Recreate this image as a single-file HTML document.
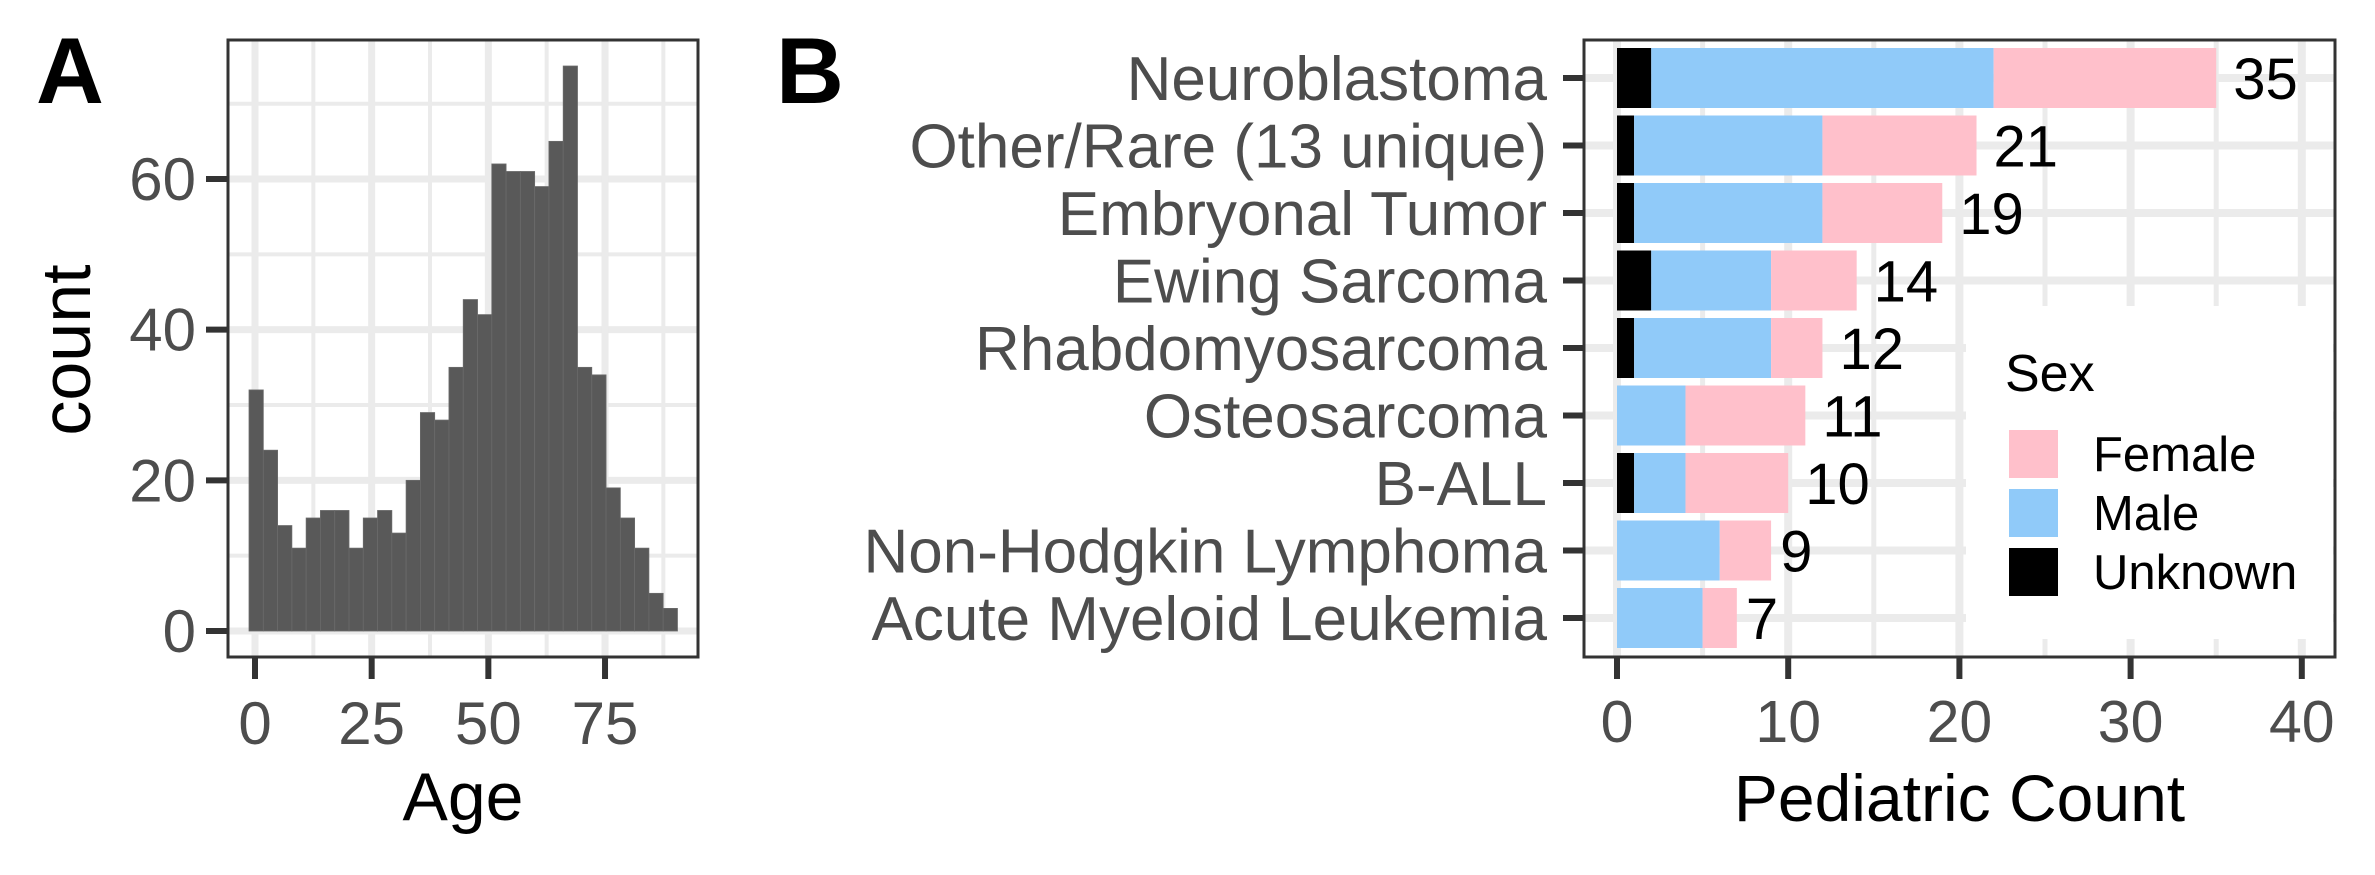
<!DOCTYPE html>
<html><head><meta charset="utf-8">
<style>
html,body{margin:0;padding:0;background:#fff;}
svg{display:block;font-family:"Liberation Sans",Arial,sans-serif;}
</style></head>
<body>
<svg id="fig" width="2375" height="875" viewBox="0 0 2375 875" xmlns="http://www.w3.org/2000/svg">
<rect width="2375" height="875" fill="#fff"/>
<g id="pA"></g>
<g id="pB"></g>
</svg>
<script>
// ---- Panel A data ----
const ageCounts = [32,24,14,11,15,16,16,11,15,16,13,20,29,28,35,44,42,62,61,61,59,65,75,35,34,19,15,11,5,3];
const ageBinStart = -1.28;
const ageBinWidth = 3.06;
const ageTicks = [0,25,50,75];
const countTicks = [0,20,40,60];
// ---- Panel B data ----
const cancerTypes = ["Neuroblastoma","Other/Rare (13 unique)","Embryonal Tumor","Ewing Sarcoma","Rhabdomyosarcoma","Osteosarcoma","B-ALL","Non-Hodgkin Lymphoma","Acute Myeloid Leukemia"];
const unknownCounts = [2,1,1,2,1,0,1,0,0];
const maleCounts = [20,11,11,7,8,4,3,6,5];
const femaleCounts = [13,9,7,5,3,7,6,3,2];
const countAxisTicks = [0,10,20,30,40];
const legendLabels = ["Female","Male","Unknown"];

const NS="http://www.w3.org/2000/svg";
function mk(parent,tag,attrs,text){const e=document.createElementNS(NS,tag);for(const k in attrs)e.setAttribute(k,attrs[k]);if(text!==undefined)e.textContent=text;parent.appendChild(e);return e;}

// ===== Panel A =====
const A=document.getElementById('pA');
const aL=228,aR=698,aT=40,aB=657;
const ax=v=>255+v*4.667;
const ay=v=>631-v*7.533;
let e=mk(A,'rect',{x:aL,y:aT,width:aR-aL,height:aB-aT,fill:'#fff'});


[10,30,50,70].forEach(v=>{const g=mk(A,'line',{x1:aL,x2:aR,y1:ay(v),y2:ay(v),stroke:'#ebebeb','stroke-width':4});

});
[12.5,37.5,62.5,87.5].forEach(v=>{const g=mk(A,'line',{x1:ax(v),x2:ax(v),y1:aT,y2:aB,stroke:'#ebebeb','stroke-width':4});

});
countTicks.forEach(v=>{const g=mk(A,'line',{x1:aL,x2:aR,y1:ay(v),y2:ay(v),stroke:'#ebebeb','stroke-width':7});

});
ageTicks.forEach(v=>{const g=mk(A,'line',{x1:ax(v),x2:ax(v),y1:aT,y2:aB,stroke:'#ebebeb','stroke-width':7});

});
ageCounts.forEach((c,i)=>{const x0=ax(ageBinStart+i*ageBinWidth),x1=ax(ageBinStart+(i+1)*ageBinWidth);
const b=mk(A,'rect',{x:x0,y:ay(c),width:x1-x0,height:ay(0)-ay(c),fill:'#595959',stroke:'#6a6a6a','stroke-width':0.8});

});
e=mk(A,'rect',{x:aL,y:aT,width:aR-aL,height:aB-aT,fill:'none',stroke:'#333','stroke-width':3});


countTicks.forEach(v=>{const t=mk(A,'line',{x1:aL-22,x2:aL,y1:ay(v),y2:ay(v),stroke:'#333','stroke-width':6});


const l=mk(A,'text',{x:aL-32,y:ay(v)+21,'text-anchor':'end','font-size':60,fill:'#4d4d4d'},String(v));

});
ageTicks.forEach(v=>{const t=mk(A,'line',{x1:ax(v),x2:ax(v),y1:aB,y2:aB+22,stroke:'#333','stroke-width':6});


const l=mk(A,'text',{x:ax(v),y:744,'text-anchor':'middle','font-size':60,fill:'#4d4d4d'},String(v));

});
e=mk(A,'text',{x:(aL+aR)/2,y:820,'text-anchor':'middle','font-size':68,fill:'#000'},'Age');


e=mk(A,'text',{x:90,y:350,'text-anchor':'middle','font-size':70,fill:'#000',transform:'rotate(-90 90 350)'},'count');


e=mk(A,'text',{x:36,y:103,'font-size':94,'font-weight':'bold',fill:'#000'},'A');



// ===== Panel B =====
const B=document.getElementById('pB');
const bL=1584,bR=2335,bT=40,bB=657;
const bx=v=>1617+v*17.12;
const by=i=>78+i*67.5;
const barH=60;
e=mk(B,'rect',{x:bL,y:bT,width:bR-bL,height:bB-bT,fill:'#fff'});


[5,15,25,35].forEach(v=>{const g=mk(B,'line',{x1:bx(v),x2:bx(v),y1:bT,y2:bB,stroke:'#ebebeb','stroke-width':5});

});
countAxisTicks.forEach(v=>{const g=mk(B,'line',{x1:bx(v),x2:bx(v),y1:bT,y2:bB,stroke:'#ebebeb','stroke-width':8});

});
cancerTypes.forEach((n,i)=>{const g=mk(B,'line',{x1:bL,x2:bR,y1:by(i),y2:by(i),stroke:'#ebebeb','stroke-width':8});

});
e=mk(B,'rect',{x:1966,y:306,width:367,height:333,fill:'#fff'});


cancerTypes.forEach((n,i)=>{
  const y=by(i)-barH/2;
  let s=0;
  const segs=[[unknownCounts[i],'#000','bar-unknown'],[maleCounts[i],'#90caf9','bar-male'],[femaleCounts[i],'#ffc0cb','bar-female']];
  segs.forEach(sg=>{if(sg[0]>0){const r=mk(B,'rect',{x:bx(s),y:y,width:bx(s+sg[0])-bx(s),height:barH,fill:sg[1]});
    
    }
    s+=sg[0];});
  const tot=unknownCounts[i]+maleCounts[i]+femaleCounts[i];
  const off=tot>=10?17:9;
  const t=mk(B,'text',{x:bx(tot)+off,y:by(i)+21,'font-size':58,fill:'#000'},String(tot));
  
  
  const tk=mk(B,'line',{x1:bL-21,x2:bL,y1:by(i),y2:by(i),stroke:'#333','stroke-width':6});
  
  
  const l=mk(B,'text',{x:1547,y:by(i)+22,'text-anchor':'end','font-size':62,fill:'#4d4d4d'},n);
  
  
});
e=mk(B,'rect',{x:bL,y:bT,width:bR-bL,height:bB-bT,fill:'none',stroke:'#333','stroke-width':3});


countAxisTicks.forEach(v=>{const t=mk(B,'line',{x1:bx(v),x2:bx(v),y1:bB,y2:bB+22,stroke:'#333','stroke-width':6});


const l=mk(B,'text',{x:bx(v),y:742,'text-anchor':'middle','font-size':59,fill:'#4d4d4d'},String(v));

});
e=mk(B,'text',{x:(bL+bR)/2,y:821,'text-anchor':'middle','font-size':66,fill:'#000'},'Pediatric Count');


e=mk(B,'text',{x:776,y:103,'font-size':94,'font-weight':'bold',fill:'#000'},'B');


e=mk(B,'text',{x:2005,y:391,'font-size':52,fill:'#000'},'Sex');


const legColors=['#ffc0cb','#90caf9','#000'];
legendLabels.forEach((lab,i)=>{
  const ky=430+i*59;
  const k=mk(B,'rect',{x:2009,y:ky,width:49,height:48,fill:legColors[i]});
  
  
  const t=mk(B,'text',{x:2093,y:ky+41,'font-size':49,fill:'#000'},lab);
  
  
});
</script>
</body></html>
